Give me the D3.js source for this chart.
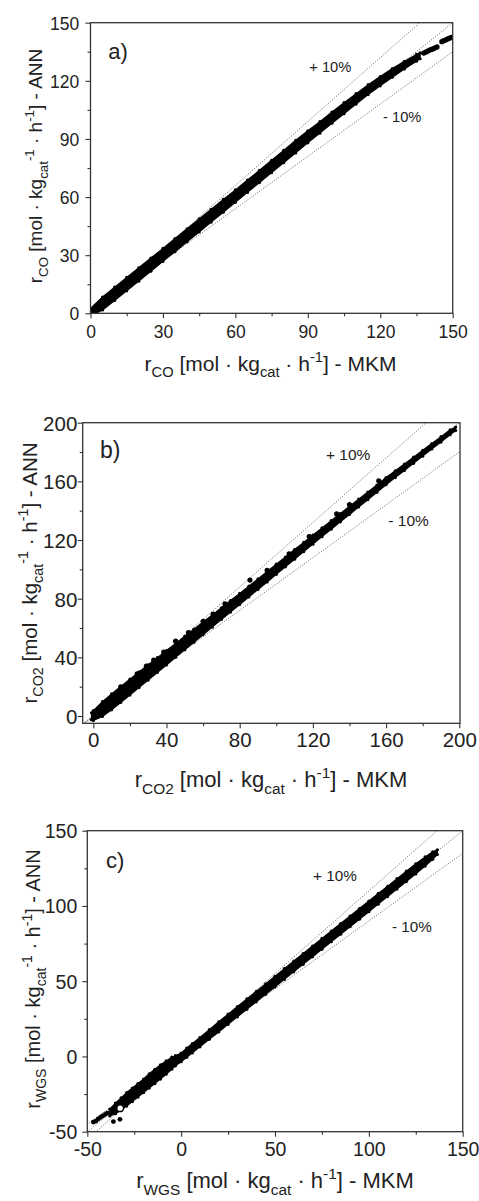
<!DOCTYPE html>
<html><head><meta charset="utf-8">
<script src="https://cdn.jsdelivr.net/npm/d3@7"></script>
<style>
body{margin:0;background:#fff}
svg{display:block}
text{font-family:"Liberation Sans",Arial,sans-serif;fill:#222}
</style>
</head><body><div id="chart"></div>
<script>
// ---------- DATA ----------
// The dense point clouds are described by their envelope (lowest / highest ANN
// value at each MKM value) plus the isolated points that stand out of them.

// a) r_CO
const coMKM     = [0,5,10,15,20,25,30,35,40,45,50,55,60,65,70,75,80,85,90,95,100,105,110,115,120,125,130,135,136.5];
const coANNLow  = [-1.5,1.7,6.6,11.6,16.6,21.7,26.8,31.8,36.9,42.0,47.1,52.2,57.3,62.4,67.5,72.6,77.7,82.8,88.0,93.0,98.1,103.0,108.0,112.9,117.4,121.9,126.1,130.1,131.4];
const coANNHigh = [2.5,8.4,13.5,18.5,23.5,28.5,33.5,38.6,43.6,48.7,53.7,58.8,63.7,68.8,73.8,79.0,84.1,89.3,94.2,98.9,103.9,108.7,113.4,118.0,122.2,126.3,130.1,133.6,134.4];
const coDotMKM  = [138,138.8,139.6,140.4,141.2,142,142.8,143.5,145.5,146.3,147.1,147.9,148.7,149.5];
const coDotANN  = [134.3,134.8,135.3,135.8,136.2,136.6,137.1,137.5,140.2,140.7,141.1,141.6,142.0,142.5];

// b) r_CO2
const co2MKM     = [-1,0,5,10,15,20,25,30,35,40,45,50,55,60,65,70,75,80,85,90,95,100,105,110,115,120,125,130,135,140,145,150,155,160,165,170,175,180,185,190,195,198];
const co2ANNLow  = [-2.5,-3,-0.3,4.2,9.2,14.3,19.4,24.5,29.7,34.8,40.0,45.1,50.3,55.4,60.6,65.8,70.9,76.0,81.2,86.3,91.4,96.6,101.7,106.9,112.1,117.2,122.3,127.4,132.4,137.4,142.5,147.5,152.5,157.7,162.6,167.4,172.3,177.2,182.1,186.8,191.8,194.6];
const co2ANNHigh = [2.2,3.6,9.8,15.1,20.1,25.1,30.1,34.9,39.8,44.6,49.4,54.4,59.2,64.1,68.9,73.8,78.7,83.6,88.5,93.5,98.5,103.5,108.4,113.5,118.4,123.4,128.3,133.2,138.1,143.0,147.9,152.7,157.5,162.6,167.2,171.8,176.5,181.2,185.8,190.5,195.2,197.0];
const co2DotMKM  = [45,38.5,29,65.5,85.6,24,107,133,15,33,52,60,72,95,118,140,156];
const co2DotANN  = [51,43.5,34,69.5,92.7,28.8,110.5,137.8,19.8,38.2,56.8,64.6,76.4,99.4,122.4,144.2,160.4];

// c) r_WGS
const wgsMKM     = [-38,-35,-32,-29,-26,-23,-20,-17,-14,-11,-8,-5,-3,0,3,6,10,15,20,25,30,35,40,45,50,55,60,65,70,75,80,85,90,95,100,105,110,115,120,125,130,134,136.5];
const wgsANNLow  = [-39.5,-38,-35.5,-33,-30,-27,-24,-21,-18,-15,-11.8,-8.5,-6.2,-3.5,-0.6,2.4,6.4,11.4,16.3,21.3,26.3,31.3,36.3,41.3,46.2,51.2,56.2,61.2,66.2,71.2,76.2,81.2,86.2,91.2,96.2,101.2,106.2,111.2,116.2,121.3,126.5,131.0,134.2];
const wgsANNHigh = [-35,-31,-27.5,-24,-21,-18,-15,-11.5,-8.5,-5.5,-3,-0.5,0.5,2.2,5.6,8.6,12.6,17.8,23.0,28.1,33.2,38.2,43.2,48.2,53.3,58.3,63.4,68.4,73.4,78.4,83.3,88.3,93.3,98.3,103.3,108.3,113.1,118.1,123.1,128.0,132.6,136.0,137.3];
const wgsDotMKM  = [-46.8,-45.5,-44.2,-43,-41.8,-40.5,-39.3,-36.1,-32.6];
const wgsDotANN  = [-43.6,-43,-41.5,-40.5,-39.5,-38.5,-37.6,-43.3,-41.8];
const wgsOpenMKM = [-32.5];
const wgsOpenANN = [-34.4];

// ticks
const coTicks = [0,30,60,90,120,150];
const coMinor = [15,45,75,105,135];
const co2Ticks = [0,40,80,120,160,200];
const co2Minor = [20,60,100,140,180];
const wgsTicks = [-50,0,50,100,150];
const wgsMinor = [-25,25,75,125];

// parity lines and labels
const lineFactors = [1.1, 1.0, 0.9];
const bandLabels = ["+ 10%", "- 10%"];
const panelLetters = ["a)", "b)", "c)"];
const speciesSubs = ["CO", "CO2", "WGS"];

// ---------- LAYOUT ----------
const W = 479, H = 1201;
const panels = [
  {m: coMKM, lo: coANNLow, hi: coANNHigh, dx: coDotMKM, dy: coDotANN, ticks: coTicks, minor: coMinor,
   frame:{l:90.5,r:452.7,t:22.7,b:313.3}, xd:[0,150], xr:[90.5,452.7], yd:[0,150], yr:[313.3,22.7],
   tickFs:17.5, xTitleFs:21, yTitleFs:19, letterFs:22, annFs:14.7, rad:2.6,
   xLabelY:337.7, yLabelX:79.3, xTitle:{x:270.5,y:370.7}, yTitle:{x:41.5,y:166},
   letter:{x:108.3,y:59.3}, plus:{x:309.3,y:71.7}, minus:{x:383,y:121.7}},
  {m: co2MKM, lo: co2ANNLow, hi: co2ANNHigh, dx: co2DotMKM, dy: co2DotANN, ticks: co2Ticks, minor: co2Minor,
   frame:{l:82.7,r:460,t:422.7,b:723.3}, xd:[0,200], xr:[93.3,459.3], yd:[0,200], yr:[716,422.7],
   tickFs:20.5, xTitleFs:22, yTitleFs:20.5, letterFs:23, annFs:15.5, rad:2.6,
   xLabelY:746.7, yLabelX:77.3, xTitle:{x:271,y:787.3}, yTitle:{x:36.5,y:573},
   letter:{x:100,y:458.3}, plus:{x:326,y:460}, minus:{x:388.3,y:526}},
  {m: wgsMKM, lo: wgsANNLow, hi: wgsANNHigh, dx: wgsDotMKM, dy: wgsDotANN, ox: wgsOpenMKM, oy: wgsOpenANN,
   ticks: wgsTicks, minor: wgsMinor,
   frame:{l:87.3,r:462.7,t:830.7,b:1131.7}, xd:[-50,150], xr:[87.3,462.7], yd:[-50,150], yr:[1131.7,830.7],
   tickFs:19.5, xTitleFs:22, yTitleFs:20, letterFs:22, annFs:15.3, rad:2.4,
   xLabelY:1156, yLabelX:77.3, xTitle:{x:275,y:1188.3}, yTitle:{x:40,y:979},
   letter:{x:106,y:868.3}, plus:{x:313,y:881}, minus:{x:392,y:932}}
];

const svg = d3.select("#chart").append("svg").attr("width", W).attr("height", H);

function richText(sel, parts, fs) {
  let off = 0;
  parts.forEach(p => {
    const target = p.sub ? fs*0.32 : p.sup ? -fs*0.42 : 0;
    sel.append("tspan").text(p.t)
      .attr("font-size", (p.sub || p.sup) ? fs*0.7 : fs)
      .attr("dy", target - off);
    off = target;
  });
}

panels.forEach((P, i) => {
  const g = svg.append("g");
  const x = d3.scaleLinear().domain(P.xd).range(P.xr);
  const y = d3.scaleLinear().domain(P.yd).range(P.yr);
  const F = P.frame;
  const clipId = "clip" + i;
  svg.append("clipPath").attr("id", clipId).append("rect")
    .attr("x", F.l).attr("y", F.t).attr("width", F.r - F.l).attr("height", F.b - F.t);
  const plot = g.append("g").attr("clip-path", `url(#${clipId})`);

  // parity lines (y = x, +10 %, -10 %)
  const x0 = x.invert(F.l), x1 = x.invert(F.r);
  plot.append("g").selectAll("line").data(lineFactors).join("line")
    .attr("x1", x(x0)).attr("x2", x(x1))
    .attr("y1", k => y(k * x0)).attr("y2", k => y(k * x1))
    .attr("stroke", "#555").attr("stroke-width", 0.9).attr("stroke-dasharray", "1,1.6");

  // dense point cloud (envelope) + its edge points
  const cloud = P.m.map((v, j) => ({m: v, lo: P.lo[j], hi: P.hi[j]}));
  plot.append("path").datum(cloud)
    .attr("d", d3.area().x(d => x(d.m)).y0(d => y(d.lo)).y1(d => y(d.hi)))
    .attr("fill", "#000").attr("stroke", "#000").attr("stroke-width", 1.2).attr("stroke-linejoin", "round");
  const edge = cloud.flatMap(d => [[d.m, d.lo], [d.m, d.hi]]);
  plot.append("g").selectAll("circle").data(edge).join("circle")
    .attr("cx", d => x(d[0])).attr("cy", d => y(d[1])).attr("r", 1.6).attr("fill", "#000");

  // isolated points
  const dots = P.dx.map((v, j) => [v, P.dy[j]]);
  plot.append("g").selectAll("circle").data(dots).join("circle")
    .attr("cx", d => x(d[0])).attr("cy", d => y(d[1])).attr("r", P.rad).attr("fill", "#000");
  if (P.ox) {
    plot.append("g").selectAll("circle").data(P.ox.map((v, j) => [v, P.oy[j]])).join("circle")
      .attr("cx", d => x(d[0])).attr("cy", d => y(d[1])).attr("r", 3.4)
      .attr("fill", "#fff").attr("stroke", "#000").attr("stroke-width", 1.5);
  }

  // frame
  g.append("rect").attr("x", F.l).attr("y", F.t).attr("width", F.r - F.l).attr("height", F.b - F.t)
    .attr("fill", "none").attr("stroke", "#333").attr("stroke-width", 1.3);

  // axes
  const fmt = d => String(d);
  const xa = g.append("g").attr("transform", `translate(0,${F.b})`)
    .call(d3.axisBottom(x).tickValues(P.ticks).tickSize(5).tickFormat(fmt));
  const xm = g.append("g").attr("transform", `translate(0,${F.b})`)
    .call(d3.axisBottom(x).tickValues(P.minor).tickSize(3).tickFormat(""));
  const ya = g.append("g").attr("transform", `translate(${F.l},0)`)
    .call(d3.axisLeft(y).tickValues(P.ticks).tickSize(5).tickFormat(fmt));
  const ym = g.append("g").attr("transform", `translate(${F.l},0)`)
    .call(d3.axisLeft(y).tickValues(P.minor).tickSize(3).tickFormat(""));
  [xa, xm, ya, ym].forEach(a => {
    a.select(".domain").remove();
    a.selectAll("line").attr("stroke", "#333").attr("stroke-width", 1.1);
    a.selectAll("text").attr("font-family", null).attr("fill", "#222");
  });
  xa.selectAll("text").attr("font-size", P.tickFs).attr("y", P.xLabelY - F.b).attr("dy", null);
  ya.selectAll("text").attr("font-size", P.tickFs).attr("x", P.yLabelX - F.l).attr("dy", "0.36em");

  // axis titles
  const sp = speciesSubs[i];
  const xt = g.append("text").attr("x", P.xTitle.x).attr("y", P.xTitle.y).attr("text-anchor", "middle");
  richText(xt, [{t:"r"},{t:sp,sub:1},{t:" [mol \u00b7 kg"},{t:"cat",sub:1},{t:" \u00b7 h"},{t:"-1",sup:1},{t:"] - MKM"}], P.xTitleFs);
  const yt = g.append("text").attr("text-anchor", "middle")
    .attr("transform", `translate(${P.yTitle.x},${P.yTitle.y}) rotate(-90)`);
  richText(yt, [{t:"r"},{t:sp,sub:1},{t:" [mol \u00b7 kg"},{t:"cat",sub:1},{t:"-1",sup:1},{t:" \u00b7 h"},{t:"-1",sup:1},{t:"] - ANN"}], P.yTitleFs);

  // panel letter and band labels
  g.append("text").attr("x", P.letter.x).attr("y", P.letter.y).attr("font-size", P.letterFs).text(panelLetters[i]);
  g.append("text").attr("x", P.plus.x).attr("y", P.plus.y).attr("font-size", P.annFs).text(bandLabels[0]);
  g.append("text").attr("x", P.minus.x).attr("y", P.minus.y).attr("font-size", P.annFs).text(bandLabels[1]);
});
</script>
</body></html>
